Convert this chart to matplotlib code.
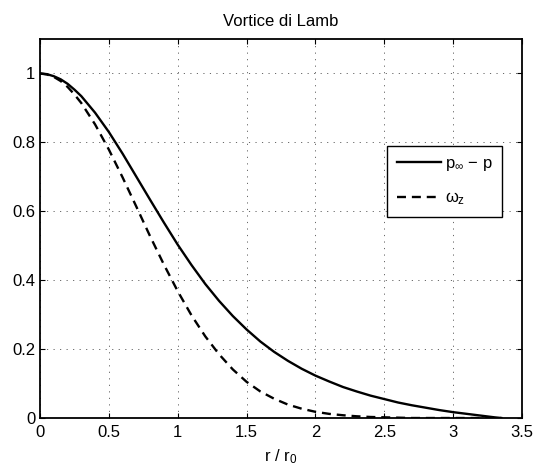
import numpy as np
import matplotlib
matplotlib.use("Agg")
import matplotlib.pyplot as plt

plt.rcParams['font.family'] = ['Liberation Sans', 'DejaVu Sans']
plt.rcParams['mathtext.fontset'] = 'custom'
plt.rcParams['mathtext.rm'] = 'Liberation Sans'
plt.rcParams['mathtext.it'] = 'Liberation Sans'

# r / r0 sample points
r = [0.0, 0.05, 0.1, 0.15, 0.2, 0.25, 0.3, 0.4, 0.5, 0.6, 0.7, 0.8, 0.9,
     1.0, 1.1, 1.2, 1.3, 1.4, 1.5, 1.6, 1.7, 1.8, 1.9,
     2.0, 2.1, 2.2, 2.3, 2.4, 2.5, 2.6, 2.7, 2.8, 2.9,
     3.0, 3.1, 3.2, 3.3, 3.35]

# p_inf - p (normalised)
pressure = [1.000, 0.998, 0.992, 0.983, 0.970, 0.953, 0.934, 0.886, 0.830, 0.767,
            0.700, 0.633, 0.567,
            0.503, 0.444, 0.389, 0.340, 0.296, 0.257, 0.222, 0.192, 0.166, 0.143,
            0.123, 0.106, 0.090, 0.077, 0.065, 0.055, 0.045, 0.037, 0.030, 0.023,
            0.017, 0.012, 0.007, 0.002, 0.0]

# omega_z (normalised)
vorticity = [1.000, 0.997, 0.990, 0.978, 0.961, 0.939, 0.914, 0.852, 0.779, 0.698,
             0.613, 0.527, 0.445,
             0.368, 0.298, 0.237, 0.185, 0.141, 0.105, 0.077, 0.056, 0.039, 0.027,
             0.018, 0.012, 0.008, 0.005, 0.003, 0.002, 0.001, 0.0, 0.0, 0.0,
             0.0, 0.0, 0.0, 0.0, 0.0]

fig = plt.figure(figsize=(5.35, 4.67), dpi=100)
ax = fig.add_axes([0.0748, 0.1049, 0.9009, 0.8116])

ax.plot(r, pressure, color='black', lw=1.7, label=r'p$_{\infty}$ $-$ p')
ax.plot(r, vorticity, color='black', lw=1.7, dashes=(3.8, 2.5), label=r'$\omega_z$')

ax.set_xlim(0, 3.5)
ax.set_ylim(0, 1.1)
ax.set_xticks([0, 0.5, 1, 1.5, 2, 2.5, 3, 3.5])
ax.set_xticklabels(['0', '0.5', '1', '1.5', '2', '2.5', '3', '3.5'])
ax.set_yticks([0, 0.2, 0.4, 0.6, 0.8, 1])
ax.set_yticklabels(['0', '0.2', '0.4', '0.6', '0.8', '1'])
ax.grid(True, linestyle=(0, (1.2, 5.5)), color='#666666', lw=0.7)
ax.tick_params(direction='in', top=True, right=True, length=3.6, width=0.8,
               labelsize=12)
ax.tick_params(axis='x', pad=5)
ax.tick_params(axis='y', pad=3.5)
for s in ax.spines.values():
    s.set_linewidth(1.3)

ax.set_title('Vortice di Lamb', fontsize=12, pad=9.5)
ax.set_xlabel(r'r / r$_0$', fontsize=12, labelpad=5)

leg = ax.legend(loc='upper left', bbox_to_anchor=(0.7205, 0.7177), fontsize=12,
                frameon=True, fancybox=False, edgecolor='black', framealpha=1,
                handlelength=2.6, handletextpad=0.25, borderpad=0.6,
                labelspacing=1.05, borderaxespad=0)
leg.get_frame().set_linewidth(1.0)

fig.savefig('out.png', dpi=100)
